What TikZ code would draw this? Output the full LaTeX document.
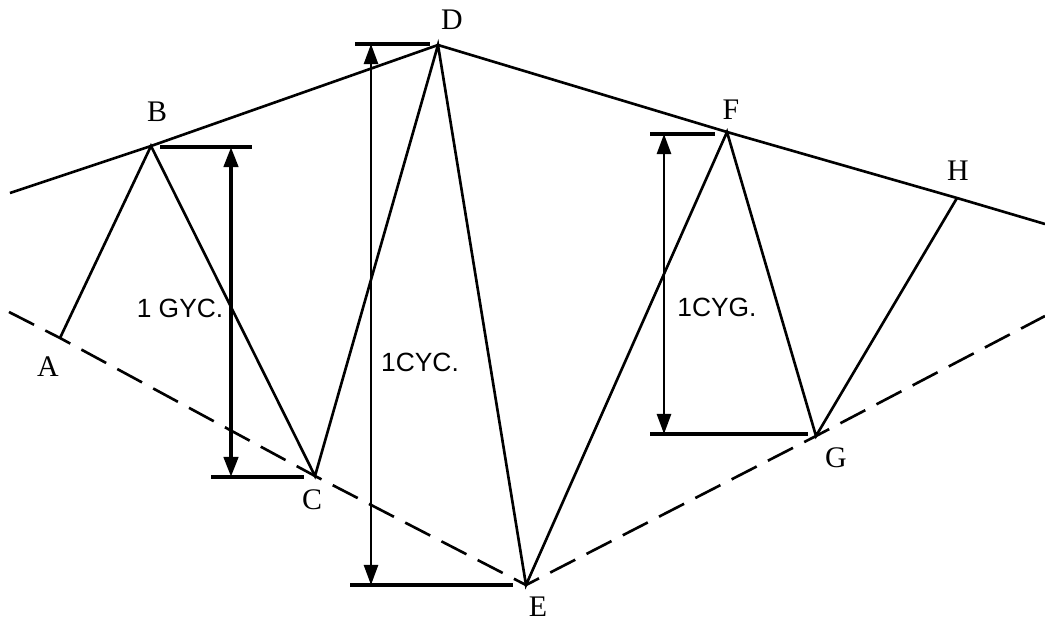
\documentclass[tikz,border=0pt]{standalone}
\usepackage{fontspec}
\setmainfont{Liberation Serif}
\setsansfont{Liberation Sans}
\usetikzlibrary{arrows.meta}
\tikzset{
  wave/.style={line width=0.75pt, line join=miter},
  envelope/.style={line width=0.75pt},
  lowenv/.style={line width=0.75pt, dash pattern=on 8pt off 3.6pt},
  extline/.style={line width=0.9pt},
  dimarrow/.style={{Triangle[length=2mm,width=1.4mm]}-{Triangle[length=2mm,width=1.4mm]}, line width=0.9pt},
  ptlabel/.style={font=\rmfamily\fontsize{8.5}{8.5}\selectfont, inner sep=0pt},
  cyclabel/.style={font=\sffamily\fontsize{7.5}{7.5}\selectfont, inner sep=0pt},
}
\begin{document}
\begin{tikzpicture}[x=0.01cm, y=-0.01cm]
\useasboundingbox (0,0) rectangle (1045,624);
% turning points of the wave
\coordinate (A) at (60,338);
\coordinate (B) at (151,146);
\coordinate (C) at (315,476);
\coordinate (D) at (438,45);
\coordinate (E) at (526,585);
\coordinate (F) at (727,132);
\coordinate (G) at (816,436);
\coordinate (H) at (957,198);
% free ends of the two trend lines
\coordinate (topL) at (10,193);
\coordinate (topR) at (1045,224);
\coordinate (lowL) at (9,312);
\coordinate (lowR) at (1045,316);

\node[ptlabel] (labA) at (48,367) {A};
\node[ptlabel] (labB) at (157,112) {B};
\node[ptlabel] (labC) at (312,500) {C};
\node[ptlabel] (labD) at (452,20) {D};
\node[ptlabel] (labE) at (538,607) {E};
\node[ptlabel] (labF) at (731,110) {F};
\node[ptlabel] (labG) at (836,458) {G};
\node[ptlabel] (labH) at (958,171) {H};

\draw[envelope] (topL) -- (B) -- (D) -- (F) -- (H) -- (topR);
\draw[lowenv] (lowL) -- (A) -- (C) -- (E) -- (G) -- (lowR);
\draw[wave] (A) -- (B) -- (C) -- (D) -- (E) -- (F) -- (G) -- (H);

% cycle heights
\coordinate (extB1) at (160,147);  \coordinate (extB2) at (252,147);
\coordinate (extC1) at (211,477);  \coordinate (extC2) at (304,477);
\coordinate (dimB) at (231,147);   \coordinate (dimC) at (231,477);
\coordinate (extD1) at (355,44);   \coordinate (extD2) at (430,44);
\coordinate (extE1) at (350,585);  \coordinate (extE2) at (513,585);
\coordinate (dimD) at (371,44);    \coordinate (dimE) at (371,585);
\coordinate (extF1) at (650,134);  \coordinate (extF2) at (715,134);
\coordinate (extG1) at (650,434);  \coordinate (extG2) at (808,434);
\coordinate (dimF) at (664,134);   \coordinate (dimG) at (664,434);

\draw[extline] (extB1) -- (extB2);
\draw[extline] (extC1) -- (extC2);
\draw[dimarrow, line width=1.2pt] (dimB) -- (dimC);
\draw[extline] (extD1) -- (extD2);
\draw[extline] (extE1) -- (extE2);
\draw[dimarrow, line width=0.7pt] (dimD) -- (dimE);
\draw[extline] (extF1) -- (extF2);
\draw[extline] (extG1) -- (extG2);
\draw[dimarrow, line width=0.75pt] (dimF) -- (dimG);

\node[cyclabel] (cycL) at (180,308) {1 GYC.};
\node[cyclabel] (cycM) at (420,362) {1CYC.};
\node[cyclabel] (cycR) at (717,307) {1CYG.};
\end{tikzpicture}
\end{document}
